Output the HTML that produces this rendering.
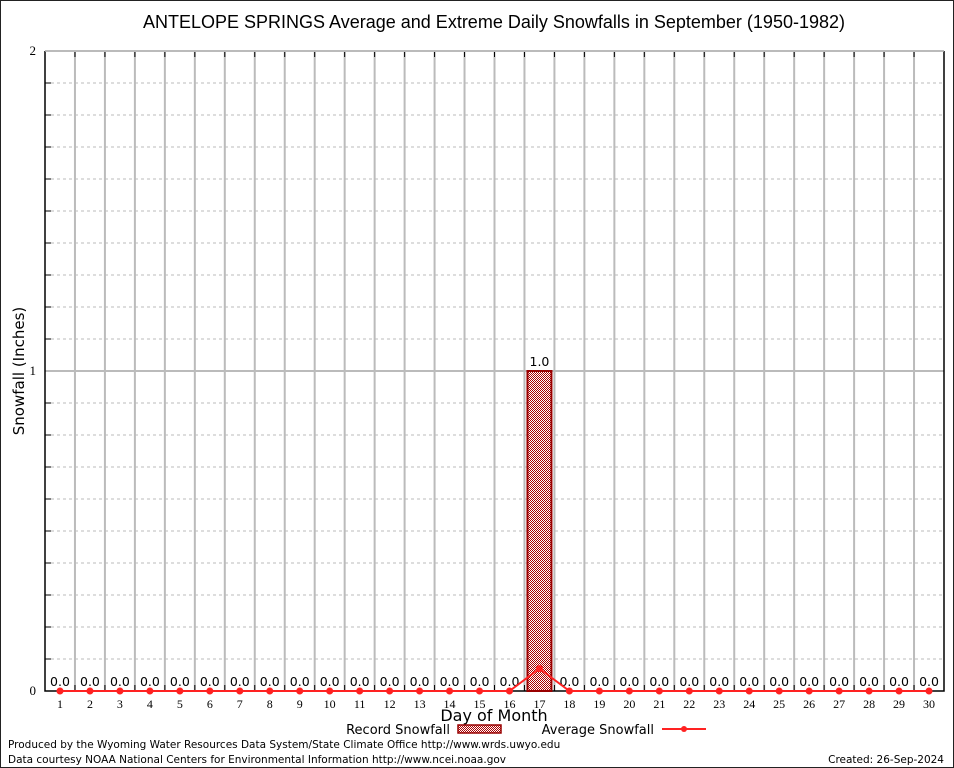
<!DOCTYPE html>
<html><head><meta charset="utf-8"><style>
body{margin:0;background:#fff}
svg{display:block}
</style></head><body>
<svg id="c" width="954" height="768" xmlns="http://www.w3.org/2000/svg" font-family="DejaVu Sans, sans-serif">
<defs>
<pattern id="hatch" width="4" height="4" patternUnits="userSpaceOnUse">
<rect width="4" height="4" fill="#fff"/>
<rect x="0" y="0" width="1" height="1" fill="#a00"/><rect x="2" y="0" width="1" height="1" fill="#a00"/>
<rect x="1" y="1" width="1" height="1" fill="#a00"/><rect x="3" y="1" width="1" height="1" fill="#a00"/>
<rect x="0" y="2" width="1" height="1" fill="#a00"/><rect x="2" y="2" width="1" height="1" fill="#a00"/>
<rect x="1" y="3" width="1" height="1" fill="#a00"/><rect x="3" y="3" width="1" height="1" fill="#a00"/>
</pattern>
</defs>
<rect x="0.5" y="0.5" width="953" height="767" fill="#fff" stroke="#222"/>
<text x="494" y="28" font-size="18" text-anchor="middle" font-family="Liberation Sans, sans-serif">ANTELOPE SPRINGS Average and Extreme Daily Snowfalls in September (1950-1982)</text>
<g id="grid"></g>
<g id="marks"></g>
<text x="24" y="371" font-size="15" text-anchor="middle" transform="rotate(-90 24 371)">Snowfall (Inches)</text>
<text x="494" y="721" font-size="16" text-anchor="middle">Day of Month</text>
<g>
<text x="450" y="734" font-size="13" text-anchor="end">Record Snowfall</text>
<rect x="458" y="725" width="43" height="8" fill="url(#hatch)" stroke="#900" stroke-width="1.5"/>
<text x="654" y="734" font-size="13" text-anchor="end">Average Snowfall</text>
<line x1="662" y1="729" x2="706" y2="729" stroke="#f22" stroke-width="2"/>
<circle cx="684" cy="729" r="3" fill="#f22"/>
</g>
<text x="8" y="748" font-size="10.5">Produced by the Wyoming Water Resources Data System/State Climate Office http://www.wrds.uwyo.edu</text>
<text x="8" y="763" font-size="10.5">Data courtesy NOAA National Centers for Environmental Information http://www.ncei.noaa.gov</text>
<text x="944" y="763" font-size="10.5" text-anchor="end">Created:  26-Sep-2024</text>
</svg>
<script>
const days=[1,2,3,4,5,6,7,8,9,10,11,12,13,14,15,16,17,18,19,20,21,22,23,24,25,26,27,28,29,30];
const record=[0,0,0,0,0,0,0,0,0,0,0,0,0,0,0,0,1.0,0,0,0,0,0,0,0,0,0,0,0,0,0];
const average=[0,0,0,0,0,0,0,0,0,0,0,0,0,0,0,0,0.07,0,0,0,0,0,0,0,0,0,0,0,0,0];
const yTicks=[0,1,2];
const L=45,R=944,T=51,B=691,YMAX=2;
const bw=(R-L)/30;
const xs=d=>L+(d-0.5)*bw;
const ys=v=>B-(v/YMAX)*(B-T);
const NS="http://www.w3.org/2000/svg";
function mk(tag,attrs,parent,txt){const e=document.createElementNS(NS,tag);for(const k in attrs)e.setAttribute(k,attrs[k]);if(txt!==undefined)e.textContent=txt;parent.appendChild(e);return e;}
const g=document.getElementById('grid'),m=document.getElementById('marks');
for(let i=1;i<20;i++){if(i===10)continue;const y=ys(i*0.1);const l=mk('line',{x1:L,x2:R,y1:y,y2:y,stroke:'#bbb','stroke-dasharray':'3,3'},g);


const t=mk('line',{x1:L,x2:L+6,y1:y,y2:y,stroke:'#000'},g);

}
for(let d=1;d<30;d++){const x=L+d*bw;const l=mk('line',{x1:x,x2:x,y1:T,y2:B,stroke:'#bbb','stroke-width':2},g);


const t1=mk('line',{x1:x,x2:x,y1:T,y2:T+6,stroke:'#000'},g);


const t2=mk('line',{x1:x,x2:x,y1:B,y2:B-6,stroke:'#000'},g);

}
yTicks.forEach(v=>{const y=ys(v);if(v>0){const l=mk('line',{x1:L,x2:R,y1:y,y2:y,stroke:'#bbb','stroke-width':2},g);

}
const t=mk('text',{x:L-9,y:y+4,'font-size':13,'text-anchor':'end','font-family':'Liberation Serif, serif'},g,String(v));

});
const ax=mk('path',{d:`M${L},${T}V${B}H${R}V${T}`,fill:'none',stroke:'#000','stroke-width':1.5},g);


const tb=mk('line',{x1:L,x2:R,y1:T,y2:T,stroke:'#bbb','stroke-width':1.5},g);


days.forEach((d,i)=>{const x=xs(d);
const tl=mk('text',{x:x,y:B+17,'font-size':12,'text-anchor':'middle','font-family':'Liberation Serif, serif'},g,String(d));


if(record[i]>0){const y=ys(record[i]);const r=mk('rect',{x:x-12,y:y,width:24,height:B-y,fill:'url(#hatch)',stroke:'#900','stroke-width':2},m);

}
const lb=mk('text',{x:x,y:ys(record[i])-5,'font-size':12.5,'text-anchor':'middle'},m,record[i].toFixed(1));

});
const pts=days.map((d,i)=>xs(d)+','+ys(average[i])).join(' ');
const pl=mk('polyline',{points:pts,fill:'none',stroke:'#f22','stroke-width':2},m);


days.forEach((d,i)=>{const c=mk('circle',{cx:xs(d),cy:ys(average[i]),r:3.5,fill:'#f22'},m);

});
</script>
</body></html>
